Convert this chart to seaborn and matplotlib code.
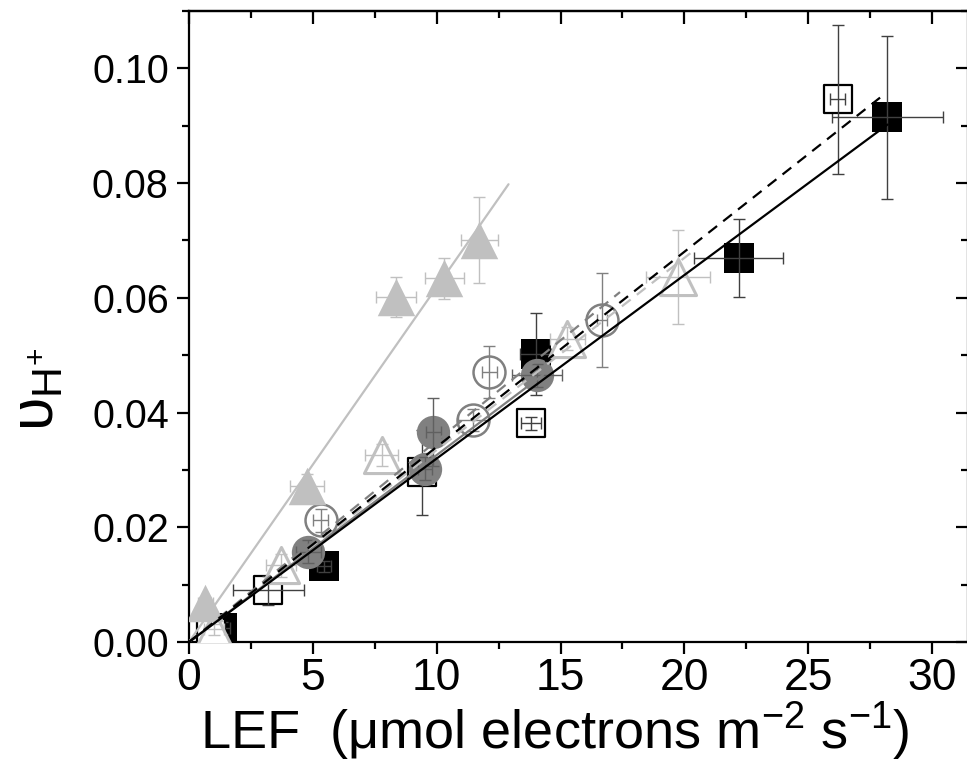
import matplotlib
matplotlib.use("Agg")
import matplotlib.pyplot as plt
import matplotlib.ticker as mticker
import seaborn as sns
import pandas as pd

# ---------------- data ----------------
sq_fill_x = [1.35, 5.45, 14.0, 22.2, 28.2]
sq_fill_y = [0.0024, 0.0132, 0.0502, 0.0670, 0.0915]
sq_fill_xerr = [0.3, 0.3, 0.63, 1.8, 2.25]
sq_fill_yerr = [0.001, 0.001, 0.0072, 0.0068, 0.0142]

sq_open_x = [0.9, 3.2, 9.42, 13.81, 26.19]
sq_open_y = [0.0015, 0.0090, 0.0296, 0.0381, 0.0946]
sq_open_xerr = [0.3, 1.43, 0.3, 0.4, 0.3]
sq_open_yerr = [0.001, 0.0025, 0.0074, 0.0012, 0.013]

ci_fill_x = [4.82, 9.53, 9.86, 14.04]
ci_fill_y = [0.0157, 0.0302, 0.0366, 0.0465]
ci_fill_xerr = [0.5, 0.3, 0.3, 1.0]
ci_fill_yerr = [0.002, 0.002, 0.006, 0.002]

ci_open_x = [5.32, 11.48, 12.12, 16.66]
ci_open_y = [0.0212, 0.0387, 0.0471, 0.0561]
ci_open_xerr = [0.3, 0.6, 0.3, 0.2]
ci_open_yerr = [0.002, 0.002, 0.0045, 0.0082]

tri_fill_x = [0.65, 4.76, 8.35, 10.31, 11.72]
tri_fill_y = [0.0068, 0.0272, 0.0602, 0.0634, 0.0701]
tri_fill_xerr = [0.3, 0.7, 0.8, 0.8, 0.75]
tri_fill_yerr = [0.001, 0.002, 0.0035, 0.0036, 0.0075]

tri_open_x = [1.0, 3.7, 7.78, 15.27, 19.75]
tri_open_y = [0.0022, 0.0134, 0.0326, 0.0529, 0.0637]
tri_open_xerr = [0.4, 0.6, 0.67, 0.7, 1.3]
tri_open_yerr = [0.001, 0.002, 0.002, 0.002, 0.0082]

# fitted lines (end points)
fit_sq_fill_x = [0.0, 28.2];   fit_sq_fill_y = [0.0, 0.0902]
fit_sq_open_x = [0.0, 27.9];   fit_sq_open_y = [0.0, 0.0949]
fit_ci_fill_x = [0.0, 14.3];   fit_ci_fill_y = [0.0, 0.0466]
fit_ci_open_x = [0.0, 17.4];   fit_ci_open_y = [0.0, 0.0610]
fit_tri_fill_x = [0.0, 12.9];  fit_tri_fill_y = [0.0, 0.0798]
fit_tri_open_x = [0.0, 20.4];  fit_tri_open_y = [0.0, 0.0683]

x_ticks = [0, 5, 10, 15, 20, 25, 30]
y_ticks = [0.00, 0.02, 0.04, 0.06, 0.08, 0.10]

# ---------------- style ----------------
sns.set_theme(style="ticks")
plt.rcParams["font.family"] = ["Liberation Sans", "DejaVu Sans"]
plt.rcParams["mathtext.fontset"] = "custom"
plt.rcParams["mathtext.rm"] = "Liberation Sans"
plt.rcParams["mathtext.it"] = "Liberation Sans"
plt.rcParams["axes.unicode_minus"] = False
for key in ["text.color", "axes.labelcolor", "xtick.color", "ytick.color",
            "axes.edgecolor", "xtick.labelcolor", "ytick.labelcolor"]:
    plt.rcParams[key] = "black"

BLACK = "#000000"
DGRAY = "#808080"
LGRAY = "#c0c0c0"

fig = plt.figure(figsize=(9.67, 7.64), dpi=100)
ax = fig.add_axes([189 / 967, 1 - 642 / 764, (968 - 189) / 967, (642 - 11) / 764])


def series(xs, ys, xe, ye, marker, size, face, edge, ecol, z, lw=0.0):
    df = pd.DataFrame({"x": xs, "y": ys})
    sns.scatterplot(data=df, x="x", y="y", marker=marker, s=size, color=face,
                    edgecolor=edge, linewidth=lw, ax=ax, zorder=z, legend=False)
    ax.errorbar(xs, ys, xerr=xe, yerr=ye, fmt="none", ecolor=ecol,
                elinewidth=1.0, capsize=4, capthick=1.0, zorder=z + 0.5)


series(sq_fill_x, sq_fill_y, sq_fill_xerr, sq_fill_yerr, "s", 21 ** 2,
       BLACK, BLACK, "#404040", 3)
series(sq_open_x, sq_open_y, sq_open_xerr, sq_open_yerr, "s", 20 ** 2,
       "white", BLACK, "#404040", 4, lw=1.6)
series(tri_open_x, tri_open_y, tri_open_xerr, tri_open_yerr, "^", 26 ** 2,
       "white", LGRAY, LGRAY, 5, lw=2.2)
series(ci_fill_x, ci_fill_y, ci_fill_xerr, ci_fill_yerr, "o", 24 ** 2,
       DGRAY, DGRAY, "#606060", 6)
series(ci_open_x, ci_open_y, ci_open_xerr, ci_open_yerr, "o", 23 ** 2,
       "white", DGRAY, DGRAY, 7, lw=1.8)
series(tri_fill_x, tri_fill_y, tri_fill_xerr, tri_fill_yerr, "^", 27 ** 2,
       LGRAY, LGRAY, LGRAY, 8)


def fit(xs, ys, col, dashed, z):
    sns.lineplot(x=xs, y=ys, color=col, linewidth=1.6, ax=ax, zorder=z,
                 estimator=None, sort=False)
    ln = ax.lines[-1]
    if dashed:
        ln.set_dashes([5, 3.5])


fit(fit_tri_fill_x, fit_tri_fill_y, LGRAY, False, 10)
fit(fit_tri_open_x, fit_tri_open_y, LGRAY, True, 10)
fit(fit_ci_fill_x, fit_ci_fill_y, DGRAY, False, 11)
fit(fit_ci_open_x, fit_ci_open_y, DGRAY, True, 11)
fit(fit_sq_fill_x, fit_sq_fill_y, BLACK, False, 12)
fit(fit_sq_open_x, fit_sq_open_y, BLACK, True, 12)

# ---------------- axes ----------------
ax.set_xlim(0, 31.45)
ax.set_ylim(0, 0.110)
ax.set_xticks(x_ticks)
ax.set_yticks(y_ticks)
ax.xaxis.set_minor_locator(mticker.MultipleLocator(2.5))
ax.yaxis.set_minor_locator(mticker.MultipleLocator(0.01))
ax.yaxis.set_major_formatter(mticker.FormatStrFormatter("%.2f"))
ax.xaxis.set_major_formatter(mticker.FormatStrFormatter("%d"))

for sp in ax.spines.values():
    sp.set_linewidth(1.6)
    sp.set_color("black")
    sp.set_visible(True)

ax.tick_params(which="major", direction="out", length=8.5, width=1.6,
               color="black", pad=4)
ax.tick_params(which="minor", direction="out", length=5, width=1.6,
               color="black")
ax.tick_params(axis="y", labelsize=28.5, pad=6, labelcolor="black")
ax.tick_params(axis="x", labelsize=32, pad=3, labelcolor="black")

# top / right ticks pointing inward
top = ax.secondary_xaxis("top")
top.set_xticks(x_ticks)
top.xaxis.set_minor_locator(mticker.MultipleLocator(2.5))
top.tick_params(which="major", direction="in", length=9, width=1.6,
                labeltop=False, color="black")
top.tick_params(which="minor", direction="in", length=5, width=1.6,
                color="black")
top.spines["top"].set_linewidth(1.6)
right = ax.secondary_yaxis("right")
right.set_yticks(y_ticks)
right.yaxis.set_minor_locator(mticker.MultipleLocator(0.01))
right.tick_params(which="major", direction="in", length=9, width=1.6,
                  labelright=False, color="black")
right.tick_params(which="minor", direction="in", length=5, width=1.6,
                  color="black")

ax.set_xlabel("LEF  (\u03bcmol electrons m$^{-2}$ s$^{-1}$)", fontsize=39,
              color="black", labelpad=0)
ax.xaxis.set_label_coords(0.47, -0.092)
ax.set_ylabel(r"$\mathregular{\upsilon_{H^{+}}}$", fontsize=44, color="black")
ax.yaxis.set_label_coords(-0.158, 0.40)

fig.savefig("out.png", dpi=100)
